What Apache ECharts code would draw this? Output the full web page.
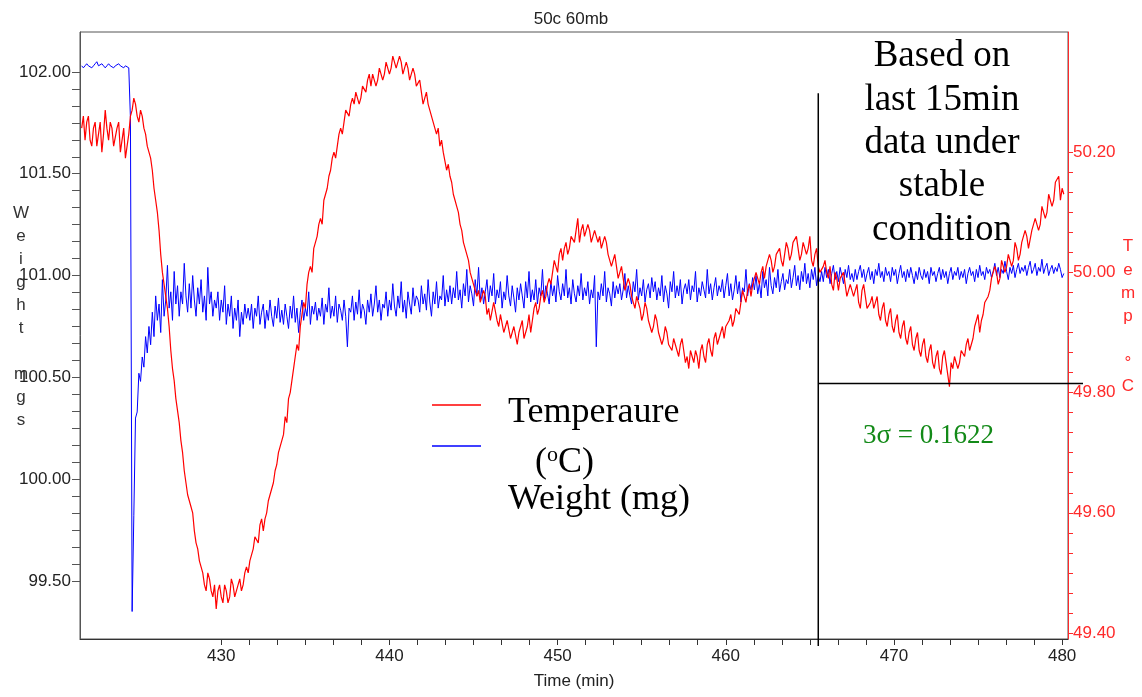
<!DOCTYPE html>
<html>
<head>
<meta charset="utf-8">
<script src="https://cdn.jsdelivr.net/npm/echarts@6/dist/echarts.min.js"></script>
<style>
  html, body { margin: 0; padding: 0; background: #fff; }
  #chart { width: 1142px; height: 697px; }
</style>
</head>
<body>
<div id="chart"></div>
<script>
// Logged samples: one reading every 0.1 min starting at 421.7 min
const sampleStart = 421.7;
const sampleStep = 0.1;

// Chamber temperature (°C), 2 minutes per row
const temperature = [
  50.24, 50.26, 50.22, 50.25, 50.26, 50.22, 50.21, 50.24, 50.25, 50.21, 50.23, 50.25, 50.20, 50.23, 50.27, 50.24, 50.22, 50.25, 50.24, 50.21,
  50.21, 50.24, 50.25, 50.20, 50.22, 50.24, 50.19, 50.21, 50.23, 50.26, 50.27, 50.29, 50.28, 50.26, 50.25, 50.27, 50.26, 50.24, 50.23, 50.21,
  50.20, 50.19, 50.17, 50.14, 50.12, 50.10, 50.07, 50.03, 50.00, 49.98, 49.96, 49.94, 49.91, 49.87, 49.84, 49.82, 49.79, 49.77, 49.75, 49.72,
  49.70, 49.67, 49.65, 49.63, 49.62, 49.61, 49.60, 49.57, 49.55, 49.54, 49.52, 49.51, 49.50, 49.48, 49.47, 49.50, 49.49, 49.47, 49.46, 49.48,
  49.44, 49.47, 49.48, 49.46, 49.45, 49.48, 49.47, 49.45, 49.46, 49.49, 49.48, 49.46, 49.46, 49.48, 49.49, 49.47, 49.48, 49.50, 49.51, 49.50,
  49.52, 49.53, 49.54, 49.56, 49.56, 49.55, 49.58, 49.59, 49.57, 49.59, 49.60, 49.62, 49.63, 49.64, 49.65, 49.67, 49.68, 49.70, 49.71, 49.72,
  49.73, 49.76, 49.75, 49.79, 49.80, 49.82, 49.84, 49.86, 49.88, 49.87, 49.91, 49.93, 49.95, 49.94, 49.98, 50.00, 50.01, 50.00, 50.04, 50.05,
  50.06, 50.08, 50.09, 50.08, 50.12, 50.13, 50.14, 50.16, 50.17, 50.19, 50.20, 50.19, 50.21, 50.23, 50.24, 50.23, 50.25, 50.27, 50.27, 50.26,
  50.28, 50.29, 50.28, 50.30, 50.30, 50.28, 50.29, 50.31, 50.31, 50.30, 50.32, 50.33, 50.31, 50.33, 50.33, 50.31, 50.32, 50.34, 50.34, 50.32,
  50.33, 50.35, 50.35, 50.33, 50.34, 50.36, 50.36, 50.34, 50.34, 50.36, 50.35, 50.33, 50.33, 50.35, 50.34, 50.32, 50.32, 50.34, 50.33, 50.31,
  50.31, 50.32, 50.30, 50.28, 50.29, 50.30, 50.28, 50.27, 50.27, 50.25, 50.25, 50.23, 50.24, 50.21, 50.22, 50.20, 50.20, 50.17, 50.18, 50.16,
  50.15, 50.13, 50.12, 50.11, 50.10, 50.08, 50.07, 50.05, 50.04, 50.03, 50.02, 50.00, 50.00, 49.98, 49.98, 49.96, 49.97, 49.95, 49.95, 49.97,
  49.96, 49.93, 49.94, 49.92, 49.92, 49.95, 49.95, 49.92, 49.91, 49.93, 49.93, 49.90, 49.90, 49.92, 49.92, 49.89, 49.89, 49.91, 49.91, 49.88,
  49.90, 49.91, 49.92, 49.89, 49.89, 49.91, 49.93, 49.90, 49.92, 49.94, 49.95, 49.93, 49.94, 49.96, 49.97, 49.95, 49.96, 49.98, 49.99, 49.98,
  50.00, 50.02, 50.01, 50.00, 50.03, 50.04, 50.02, 50.04, 50.05, 50.03, 50.04, 50.06, 50.06, 50.05, 50.07, 50.09, 50.05, 50.07, 50.08, 50.06,
  50.06, 50.08, 50.07, 50.05, 50.05, 50.07, 50.07, 50.05, 50.06, 50.04, 50.04, 50.06, 50.05, 50.03, 50.03, 50.01, 50.02, 50.03, 50.01, 49.99,
  50.00, 50.01, 49.99, 49.97, 49.97, 49.99, 49.98, 49.96, 49.95, 49.94, 49.96, 49.95, 49.94, 49.92, 49.93, 49.95, 49.94, 49.92, 49.92, 49.90,
  49.91, 49.93, 49.92, 49.90, 49.90, 49.88, 49.89, 49.91, 49.90, 49.88, 49.88, 49.87, 49.89, 49.88, 49.87, 49.86, 49.88, 49.89, 49.87, 49.85,
  49.86, 49.84, 49.87, 49.86, 49.85, 49.87, 49.86, 49.84, 49.87, 49.88, 49.86, 49.85, 49.88, 49.89, 49.87, 49.86, 49.89, 49.90, 49.88, 49.89,
  49.90, 49.91, 49.89, 49.91, 49.91, 49.92, 49.93, 49.91, 49.92, 49.94, 49.94, 49.93, 49.95, 49.97, 49.96, 49.95, 49.97, 49.98, 49.96, 49.98,
  49.98, 50.00, 49.99, 49.98, 50.00, 50.01, 49.99, 50.01, 50.01, 50.03, 50.02, 50.00, 50.01, 50.03, 50.03, 50.04, 50.02, 50.01, 50.03, 50.05,
  50.04, 50.02, 50.03, 50.05, 50.05, 50.06, 50.04, 50.02, 50.03, 50.05, 50.05, 50.03, 50.04, 50.06, 50.02, 50.01, 50.03, 50.04, 50.01, 50.00,
  50.00, 50.01, 50.02, 50.00, 49.99, 50.01, 49.98, 49.97, 50.00, 49.99, 49.97, 49.99, 49.99, 50.00, 49.98, 49.96, 49.96, 49.98, 49.98, 49.96,
  49.97, 49.98, 49.95, 49.94, 49.97, 49.98, 49.96, 49.94, 49.94, 49.95, 49.96, 49.94, 49.95, 49.96, 49.93, 49.92, 49.94, 49.95, 49.92, 49.91,
  49.93, 49.94, 49.91, 49.90, 49.92, 49.93, 49.90, 49.89, 49.91, 49.92, 49.89, 49.88, 49.90, 49.91, 49.88, 49.87, 49.89, 49.90, 49.87, 49.86,
  49.88, 49.89, 49.86, 49.85, 49.87, 49.88, 49.85, 49.84, 49.86, 49.87, 49.84, 49.83, 49.86, 49.87, 49.85, 49.83, 49.81, 49.85, 49.84, 49.86,
  49.86, 49.84, 49.85, 49.87, 49.87, 49.86, 49.88, 49.89, 49.87, 49.88, 49.89, 49.91, 49.91, 49.93, 49.90, 49.92, 49.93, 49.95, 49.95, 49.96,
  49.97, 49.99, 49.99, 50.01, 50.00, 49.98, 49.99, 50.02, 50.02, 50.00, 50.01, 50.03, 50.03, 50.01, 50.02, 50.05, 50.04, 50.02, 50.03, 50.05,
  50.05, 50.07, 50.06, 50.04, 50.04, 50.07, 50.07, 50.09, 50.09, 50.07, 50.08, 50.11, 50.11, 50.09, 50.10, 50.13, 50.13, 50.11, 50.12, 50.15,
  50.15, 50.16, 50.12, 50.14, 50.13
];

// Sample weight (mg), 2 minutes per row
const weight = [
  102.03, 102.02, 102.03, 102.04, 102.03, 102.03, 102.02, 102.03, 102.04, 102.05, 102.03, 102.03, 102.04, 102.03, 102.02, 102.03, 102.04, 102.03, 102.03, 102.02,
  102.03, 102.03, 102.04, 102.03, 102.03, 102.02, 102.03, 102.03, 102.02, 101.77, 99.35, 99.82, 100.30, 100.33, 100.52, 100.48, 100.60, 100.55, 100.70, 100.62,
  100.75, 100.66, 100.82, 100.70, 100.90, 100.78, 100.86, 100.72, 100.98, 100.80, 100.88, 101.05, 100.84, 100.92, 100.78, 101.02, 100.86, 100.95, 100.80, 100.92,
  100.86, 101.06, 100.90, 100.82, 100.96, 100.84, 101.00, 100.88, 100.80, 100.94, 100.86, 100.98, 100.82, 100.90, 100.78, 101.04, 100.86, 100.92, 100.80, 100.88,
  100.84, 100.92, 100.78, 100.88, 100.82, 100.95, 100.76, 100.86, 100.80, 100.90, 100.74, 100.84, 100.78, 100.88, 100.70, 100.82, 100.76, 100.86, 100.79, 100.84,
  100.78, 100.86, 100.74, 100.84, 100.80, 100.90, 100.76, 100.82, 100.86, 100.74, 100.83, 100.78, 100.88, 100.80, 100.75, 100.85, 100.79, 100.89, 100.77, 100.83,
  100.76, 100.86, 100.80, 100.74, 100.85, 100.79, 100.90, 100.77, 100.84, 100.72, 100.82, 100.88, 100.78, 100.84, 100.80, 100.92, 100.76, 100.85, 100.81, 100.87,
  100.78, 100.84, 100.80, 100.89, 100.76, 100.86, 100.82, 100.94, 100.79, 100.85, 100.80, 100.90, 100.77, 100.86, 100.83, 100.78, 100.88, 100.80, 100.65, 100.84,
  100.82, 100.90, 100.78, 100.87, 100.81, 100.93, 100.79, 100.86, 100.83, 100.76, 100.88, 100.82, 100.91, 100.80, 100.86, 100.95, 100.82, 100.88, 100.78, 100.86,
  100.84, 100.92, 100.80, 100.88, 100.83, 100.96, 100.85, 100.80, 100.90, 100.84, 100.97, 100.82, 100.88, 100.79, 100.92, 100.86, 100.81, 100.94, 100.85, 100.90,
  100.88, 100.82, 100.95, 100.86, 100.91, 100.83, 100.98, 100.87, 100.80, 100.92, 100.86, 100.97, 100.84, 100.90, 100.88, 101.00, 100.85, 100.93, 100.87, 100.95,
  100.86, 100.94, 100.89, 101.02, 100.88, 100.93, 100.84, 100.96, 100.90, 101.03, 100.87, 100.95, 100.91, 100.85, 100.98, 100.90, 101.04, 100.88, 100.94, 100.86,
  100.92, 100.98, 100.87, 100.95, 100.90, 101.01, 100.86, 100.93, 100.89, 100.97, 100.84, 100.92, 100.88, 101.00, 100.90, 100.85, 100.95, 100.89, 100.82, 100.94,
  100.88, 100.96, 100.90, 100.84, 100.97, 100.89, 101.02, 100.87, 100.93, 100.88, 100.98, 100.86, 100.94, 100.90, 101.03, 100.88, 100.95, 100.91, 100.86, 100.97,
  100.90, 100.95, 100.87, 101.00, 100.92, 100.88, 100.96, 100.90, 101.03, 100.89, 100.94, 100.86, 100.98, 100.91, 100.87, 100.95, 100.90, 101.01, 100.88, 100.94,
  100.90, 100.97, 100.86, 100.93, 100.89, 101.00, 100.65, 100.92, 100.88, 100.96, 100.90, 101.02, 100.87, 100.94, 100.91, 100.85, 100.97, 100.89, 100.95, 100.91,
  100.96, 100.88, 100.93, 101.01, 100.89, 100.95, 100.90, 100.86, 100.97, 100.92, 101.03, 100.88, 100.94, 100.90, 100.98, 100.87, 100.93, 100.96, 100.89, 100.99,
  100.92, 100.97, 100.88, 100.94, 100.90, 101.00, 100.87, 100.95, 100.91, 100.84, 100.97, 100.92, 101.02, 100.89, 100.95, 100.90, 100.98, 100.86, 100.93, 100.96,
  100.91, 100.98, 100.88, 100.95, 100.92, 101.02, 100.87, 100.94, 100.90, 100.97, 100.93, 100.89, 101.03, 100.91, 100.96, 100.88, 100.94, 100.99, 100.90, 100.95,
  100.92, 100.98, 100.89, 100.95, 101.01, 100.90, 100.96, 100.88, 100.93, 101.00, 100.91, 100.97, 100.87, 100.94, 100.92, 101.03, 100.90, 100.96, 100.93, 100.99,
  100.93, 101.00, 100.91, 100.96, 100.89, 101.02, 100.94, 100.98, 100.90, 101.04, 100.95, 100.91, 100.99, 100.94, 101.03, 100.92, 100.97, 101.01, 100.93, 100.98,
  100.96, 101.03, 100.94, 100.99, 101.05, 100.95, 101.00, 100.93, 101.02, 100.97, 101.06, 100.96, 101.01, 100.94, 101.03, 100.98, 101.04, 100.95, 101.00, 100.97,
  101.02, 100.97, 101.04, 100.99, 101.03, 100.96, 101.01, 101.05, 100.98, 101.02, 100.97, 101.04, 101.00, 100.96, 101.03, 100.99, 101.05, 100.98, 101.01, 100.97,
  101.03, 100.98, 101.02, 101.05, 100.99, 101.03, 100.97, 101.01, 101.04, 100.98, 101.02, 100.96, 101.03, 101.00, 101.06, 100.99, 101.02, 100.97, 101.04, 101.00,
  101.02, 100.97, 101.04, 101.00, 101.03, 100.96, 101.01, 101.05, 100.99, 101.02, 100.97, 101.03, 100.99, 101.04, 101.00, 100.96, 101.02, 100.98, 101.04, 101.00,
  100.98, 101.03, 100.99, 101.02, 100.96, 101.04, 101.00, 101.02, 100.97, 101.01, 101.04, 100.98, 101.03, 100.99, 101.02, 100.96, 101.01, 101.04, 100.98, 101.02,
  101.00, 101.04, 100.98, 101.02, 100.99, 101.03, 100.96, 101.01, 101.04, 101.00, 101.02, 100.97, 101.03, 100.99, 101.05, 101.00, 101.02, 100.98, 101.04, 101.01,
  101.03, 100.99, 101.02, 101.06, 101.00, 101.04, 100.99, 101.03, 101.01, 101.07, 101.02, 100.98, 101.04, 101.01, 101.05, 100.99, 101.03, 101.06, 101.01, 101.04,
  101.02, 101.05, 101.00, 101.04, 101.07, 101.01, 101.03, 101.06, 101.00, 101.04, 101.02, 101.08, 101.01, 101.04, 101.06, 101.00, 101.03, 101.05, 101.01, 101.04,
  101.02, 101.06, 101.03, 100.99, 101.01
];

// Axis labels
const timeLabels = [430, 440, 450, 460, 470, 480];
const weightLabels = [99.5, 100.0, 100.5, 101.0, 101.5, 102.0];
const tempLabels = [49.4, 49.6, 49.8, 50.0, 50.2];

// Start of the last 15 min window, the 3-sigma band level and the top of the divider
const stableStart = 465.5;
const sigmaLevel = 49.815;
const dividerTop = 50.298;

const times = temperature.map((_, i) => +(sampleStart + i * sampleStep).toFixed(2));

// Six tick marks per labelled step, between the first and last label
function subTicks(labels, parts) {
  const out = [];
  const step = (labels[1] - labels[0]) / parts;
  const n = (labels.length - 1) * parts;
  for (let i = 0; i <= n; i++) out.push(+(labels[0] + i * step).toFixed(4));
  return out;
}

const sans = 'Liberation Sans, Arial, sans-serif';
const serif = 'Liberation Serif, Times New Roman, serif';

const xMin = 421.6, xMax = 480.35;
const tempMin = 49.39, tempMax = 50.40;

const chart = echarts.init(document.getElementById('chart'));

chart.setOption({
  animation: false,
  backgroundColor: '#fff',
  title: {
    text: '50c 60mb',
    left: 'center',
    top: 6,
    textStyle: { fontFamily: sans, fontSize: 17, fontWeight: 'normal', color: '#222' }
  },
  grid: {
    left: 80, right: 74, top: 32, bottom: 58,
    show: true, borderColor: '#555', borderWidth: 1, backgroundColor: 'transparent'
  },
  xAxis: {
    type: 'value',
    min: xMin,
    max: xMax,
    splitLine: { show: false },
    axisLine: { show: true, onZero: false, lineStyle: { color: '#333', width: 1 } },
    axisTick: { show: true, length: 6, customValues: subTicks(timeLabels, 6), lineStyle: { color: '#333' } },
    axisLabel: {
      customValues: timeLabels, margin: 9,
      fontFamily: sans, fontSize: 17, color: '#222'
    },
    name: 'Time (min)',
    nameLocation: 'middle',
    nameGap: 34,
    nameTextStyle: { fontFamily: sans, fontSize: 17, color: '#222' }
  },
  yAxis: [
    {
      type: 'value',
      position: 'left',
      min: 99.215,
      max: 102.196,
      splitLine: { show: false },
      axisLine: { show: true, lineStyle: { color: '#555', width: 1 } },
      axisTick: { show: true, length: 8, customValues: subTicks(weightLabels, 6), lineStyle: { color: '#555' } },
      axisLabel: {
        customValues: weightLabels, margin: 9,
        formatter: v => v.toFixed(2),
        fontFamily: sans, fontSize: 17, color: '#222'
      }
    },
    {
      type: 'value',
      position: 'right',
      min: tempMin,
      max: tempMax,
      splitLine: { show: false },
      axisLine: { show: true, lineStyle: { color: '#ff2a2a', width: 1 } },
      axisTick: { show: true, length: 5, customValues: subTicks(tempLabels, 6), lineStyle: { color: '#ff2a2a' } },
      axisLabel: {
        customValues: tempLabels, margin: 5,
        formatter: v => v.toFixed(2),
        fontFamily: sans, fontSize: 17, color: '#ff2a2a'
      }
    }
  ],
  series: [
    {
      name: 'Weight (mg)',
      type: 'line',
      yAxisIndex: 0,
      data: weight.map((v, i) => [times[i], v]),
      showSymbol: false,
      symbol: 'none',
      lineStyle: { color: '#0000ff', width: 1 },
      z: 2
    },
    {
      name: 'Temperaure (°C)',
      type: 'line',
      yAxisIndex: 1,
      data: temperature.map((v, i) => [times[i], v]),
      showSymbol: false,
      symbol: 'none',
      lineStyle: { color: '#ff0000', width: 1.2 },
      z: 3
    }
  ]
});

// Divider and 3-sigma level, placed through the temperature axis scale
const tempCoord = { xAxisIndex: 0, yAxisIndex: 1 };
const pTop = chart.convertToPixel(tempCoord, [stableStart, dividerTop]);
const pBottom = chart.convertToPixel(tempCoord, [stableStart, tempMin]);
const pSigma = chart.convertToPixel(tempCoord, [stableStart, sigmaLevel]);
const pRight = chart.convertToPixel(tempCoord, [xMax, sigmaLevel]);

chart.setOption({
  graphic: [
    // vertical axis titles
    {
      type: 'text', x: 21, y: 202, z: 10,
      style: { text: 'W\ne\ni\ng\nh\nt\n\nm\ng\ns', align: 'center', verticalAlign: 'top',
               lineHeight: 23, fontFamily: sans, fontSize: 17, fill: '#333' }
    },
    {
      type: 'text', x: 1128, y: 235, z: 10,
      style: { text: 'T\ne\nm\np\n\n°\nC', align: 'center', verticalAlign: 'top',
               lineHeight: 23.3, fontFamily: sans, fontSize: 17, fill: '#ff2a2a' }
    },
    // stable-window divider and 3-sigma level
    { type: 'line', z: 20, shape: { x1: pTop[0], y1: pTop[1], x2: pBottom[0], y2: pBottom[1] + 7 },
      style: { stroke: '#000', lineWidth: 1.5 } },
    { type: 'line', z: 20, shape: { x1: pSigma[0], y1: pSigma[1], x2: pRight[0] + 15, y2: pSigma[1] },
      style: { stroke: '#000', lineWidth: 1.5 } },
    // legend
    { type: 'line', z: 10, shape: { x1: 432, y1: 405, x2: 481, y2: 405 }, style: { stroke: '#ff0000', lineWidth: 1.5 } },
    { type: 'line', z: 10, shape: { x1: 432, y1: 446, x2: 481, y2: 446 }, style: { stroke: '#0000ff', lineWidth: 1.5 } },
    {
      type: 'text', x: 508, y: 413, z: 10,
      style: { text: 'Temperaure', verticalAlign: 'middle', fontFamily: serif, fontSize: 36, fill: '#000' }
    },
    {
      type: 'text', x: 535, y: 463, z: 10,
      style: {
        text: '{a|(}{s|o}{a|C)}', verticalAlign: 'middle',
        rich: {
          a: { fontFamily: serif, fontSize: 36, fill: '#000', lineHeight: 38 },
          s: { fontFamily: serif, fontSize: 22, fill: '#000', verticalAlign: 'top', lineHeight: 38 }
        }
      }
    },
    {
      type: 'text', x: 508, y: 500, z: 10,
      style: { text: 'Weight (mg)', verticalAlign: 'middle', fontFamily: serif, fontSize: 36, fill: '#000' }
    },
    // annotation for the stable window
    {
      type: 'text', x: 942, y: 35, z: 10,
      style: { text: 'Based on\nlast 15min\ndata under\nstable\ncondition', align: 'center', verticalAlign: 'top',
               lineHeight: 43.3, fontFamily: serif, fontSize: 37, fill: '#000' }
    },
    {
      type: 'text', x: 863, y: 436, z: 10,
      style: { text: '3σ = 0.1622', verticalAlign: 'middle', fontFamily: serif, fontSize: 27, fill: '#138a18' }
    }
  ]
});
</script>
</body>
</html>
